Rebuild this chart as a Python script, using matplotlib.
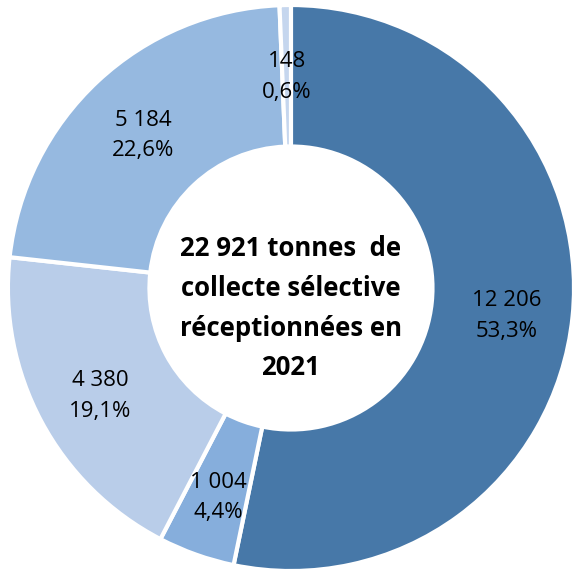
import matplotlib
matplotlib.use("Agg")
import matplotlib.pyplot as plt

values = [12206, 1004, 4380, 5184, 148]
labels = ["12 206\n53,3%", "1 004\n4,4%", "4 380\n19,1%", "5 184\n22,6%", "148\n0,6%"]
colors = ["#4778A8", "#86AEDC", "#B9CDE9", "#96B9E0", "#C5D6EE"]
center_text = "22 921 tonnes  de\ncollecte sélective\nréceptionnées en\n2021"

plt.rcParams['font.family'] = ['Open Sans', 'DejaVu Sans']

fig = plt.figure(figsize=(5.75, 5.73), dpi=100)
ax = fig.add_axes([0, 0, 1, 1])
wedges, texts = ax.pie(values, labels=labels, colors=colors, startangle=90,
                       counterclock=False, radius=1.0, labeldistance=0.765,
                       wedgeprops=dict(width=0.5, edgecolor="white", linewidth=3),
                       textprops=dict(fontsize=16, ha="center", va="center", color="black",
                                      linespacing=1.6))
for t in texts:
    t.set_horizontalalignment("center")
    x, y = t.get_position()
    t.set_position((x, y - 0.02))
ax.text(0, -0.072, center_text, ha="center", va="center", fontsize=18.5,
        fontweight="bold", linespacing=1.6)
ax.set_xlim(-1.028, 1.0035)
ax.set_ylim(-1.007, 1.0177)
ax.set_aspect("auto")
ax.axis("off")
fig.savefig("out.png", dpi=100)
